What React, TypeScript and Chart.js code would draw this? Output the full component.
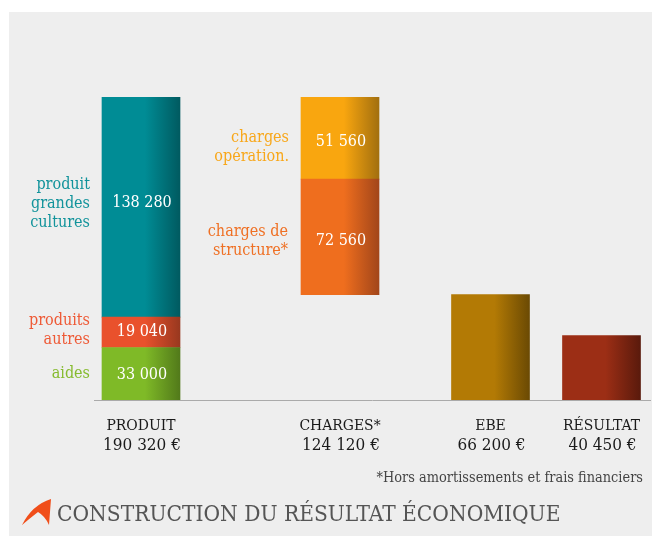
import React, { useEffect, useRef } from "react";
import { Chart, registerables } from "chart.js";

Chart.register(...registerables);

const categories = ["PRODUIT", "CHARGES*", "EBE", "RÉSULTAT"];
const totals = ["190 320 €", "124 120 €", "66 200 €", "40 450 €"];
const categoryX = [4.7, 24.6, 39.65, 50.75];

const produitAides = [0, 33000];
const produitAutres = [33000, 52040];
const produitCultures = [52040, 190320];
const chargesStructure = [66200, 138760];
const chargesOperation = [138760, 190320];
const ebe = [0, 66200];
const resultat = [0, 40450];

const FONT = '"DejaVu Serif Condensed", "DejaVu Serif"';
const BAR_W = 78;

type Seg = {
  cat: number;
  range: number[];
  value: string;
  lines: string[];
  color: string;
  dark: string;
  text: string;
  valueDy: number;
  labelDy: number;
  labelDx: number;
};

const segments: Seg[] = [
  { cat: 0, range: produitAides, value: "33 000", lines: ["aides"], color: "#7fba27", dark: "#527a1a", text: "#86bb2f", valueDy: 1, labelDy: 0, labelDx: 0 },
  { cat: 0, range: produitAutres, value: "19 040", lines: ["produits", "autres"], color: "#e9512c", dark: "#98381f", text: "#ee5a36", valueDy: 0, labelDy: -1.5, labelDx: 0 },
  { cat: 0, range: produitCultures, value: "138 280", lines: ["produit", "grandes", "cultures"], color: "#008c95", dark: "#005a60", text: "#12939b", valueDy: -4, labelDy: -3, labelDx: 0 },
  { cat: 1, range: chargesStructure, value: "72 560", lines: ["charges de", "structure*"], color: "#ef6e1e", dark: "#a2461a", text: "#ef7024", valueDy: 4, labelDy: 4, labelDx: -1 },
  { cat: 1, range: chargesOperation, value: "51 560", lines: ["charges", "opération."], color: "#f9a60f", dark: "#a26f0f", text: "#f8a71a", valueDy: 4, labelDy: 9, labelDx: 0 },
  { cat: 2, range: ebe, value: "", lines: [], color: "#b37a05", dark: "#6b4a03", text: "#000", valueDy: 0, labelDy: 0, labelDx: 0 },
  { cat: 3, range: resultat, value: "", lines: [], color: "#9c2e15", dark: "#5a1a0c", text: "#000", valueDy: 0, labelDy: 0, labelDx: 0 },
];

const annotations = {
  id: "annotations",
  afterDatasetsDraw(chart: any) {
    const { ctx, scales } = chart;
    const xs = scales.x;
    const ys = scales.y;
    ctx.save();
    ctx.textBaseline = "middle";
    for (const s of segments) {
      const cx = xs.getPixelForValue(categoryX[s.cat]);
      const mid = ys.getPixelForValue((s.range[0] + s.range[1]) / 2);
      if (s.value) {
        ctx.fillStyle = "#ffffff";
        ctx.textAlign = "center";
        ctx.font = `16px ${FONT}`;
        ctx.fillText(s.value, cx + 1, mid + s.valueDy);
      }
      ctx.textAlign = "right";
      ctx.font = `16px ${FONT}`;
      ctx.fillStyle = s.text;
      const lh = 19;
      s.lines.forEach((line, i) => {
        const y = mid + s.labelDy + (i - (s.lines.length - 1) / 2) * lh;
        ctx.fillText(line, cx - BAR_W / 2 - 12 + s.labelDx, y);
      });
    }
    // category totals under the axis labels
    ctx.textAlign = "center";
    ctx.fillStyle = "#1a1a1a";
    ctx.font = `17px ${FONT}`;
    totals.forEach((t, i) => {
      ctx.fillText(t, xs.getPixelForValue(categoryX[i]) + 1, 446);
    });
    // footnote
    ctx.textAlign = "right";
    ctx.fillStyle = "#444444";
    ctx.font = `14.4px ${FONT}`;
    ctx.fillText("*Hors amortissements et frais financiers", 643, 478);
    // title
    ctx.textAlign = "left";
    ctx.fillStyle = "#555555";
    ctx.font = `22.5px ${FONT}`;
    ctx.fillText("CONSTRUCTION DU RÉSULTAT ÉCONOMIQUE", 57, 515);
    // logo
    ctx.fillStyle = "#f04e1a";
    ctx.beginPath();
    ctx.moveTo(22, 525);
    ctx.quadraticCurveTo(32, 505, 51, 499);
    ctx.lineTo(49, 525);
    ctx.quadraticCurveTo(45, 516, 38, 512);
    ctx.quadraticCurveTo(29, 519, 22, 525);
    ctx.closePath();
    ctx.fill();
    ctx.restore();
  },
};

export default function App() {
  const ref = useRef<HTMLCanvasElement>(null);
  useEffect(() => {
    const gradientFor = (seg: Seg) => (c: any) => {
      const xs = c.chart.scales.x;
      const cx = xs ? xs.getPixelForValue(categoryX[seg.cat]) : NaN;
      if (!Number.isFinite(cx)) return seg.color;
      const g = c.chart.ctx.createLinearGradient(cx - BAR_W / 2, 0, cx + BAR_W / 2, 0);
      g.addColorStop(0, seg.color);
      g.addColorStop(0.55, seg.color);
      g.addColorStop(1, seg.dark);
      return g;
    };
    const chart = new Chart(ref.current!, {
      type: "bar",
      data: {
        datasets: segments.map((seg) => ({
          label: seg.lines.join(" ") || categories[seg.cat],
          data: [{ x: categoryX[seg.cat], y: seg.range }],
          backgroundColor: gradientFor(seg),
          borderWidth: 0,
          barThickness: BAR_W,
          grouped: false,
        })) as any,
      },
      options: {
        responsive: false,
        animation: false,
        layout: { padding: { left: 94, right: 2, top: 97, bottom: 0 } },
        plugins: { legend: { display: false }, tooltip: { enabled: false } },
        scales: {
          x: {
            type: "linear",
            offset: false,
            min: 0,
            max: 55.6,
            grid: { display: false },
            border: { color: "#aaaaaa", width: 1 },
            afterBuildTicks: (s: any) => {
              s.ticks = categoryX.map((v) => ({ value: v }));
            },
            afterFit: (s: any) => {
              s.height = 136;
            },
            ticks: {
              autoSkip: false,
              maxRotation: 0,
              padding: 7,
              color: "#1a1a1a",
              font: { family: "DejaVu Serif Condensed, DejaVu Serif", size: 15.5, lineHeight: 1.4 },
              callback: (v: any) => {
                const i = categoryX.indexOf(v);
                return i < 0 ? "" : categories[i];
              },
            },
          },
          y: { display: false, min: 0, max: 190320 },
        },
      } as any,
      plugins: [annotations],
    });
    return () => chart.destroy();
  }, []);
  return (
    <div style={{ position: "absolute", left: 0, top: 0, width: 652, height: 536, background: "#ffffff", overflow: "hidden" }}>
      <div style={{ position: "absolute", left: 9, top: 12, width: 643, height: 524, background: "#eeeeee" }} />
      <canvas ref={ref} width={652} height={536} style={{ position: "absolute", left: 0, top: 0 }} />
    </div>
  );
}
